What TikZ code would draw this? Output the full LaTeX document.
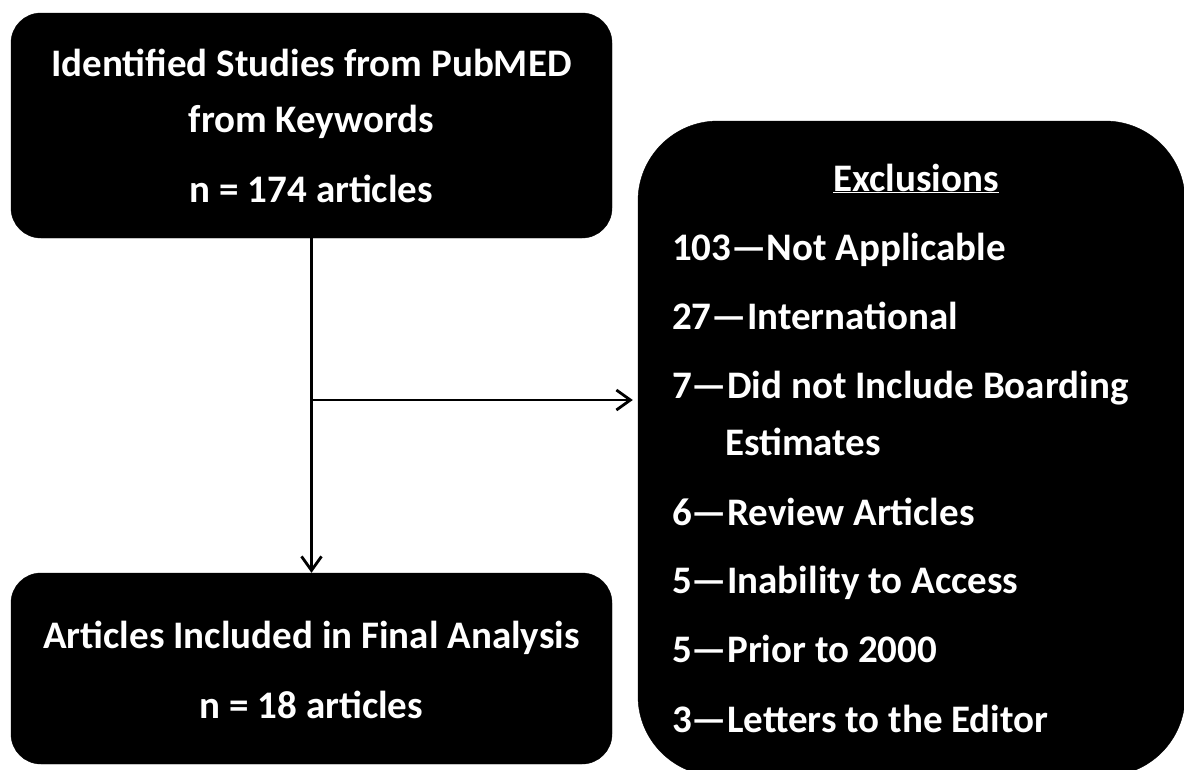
\documentclass[tikz,border=0pt]{standalone}
\usepackage{fontspec}
\setmainfont{Carlito}
\usetikzlibrary{positioning,arrows.meta}

\begin{document}
\begin{tikzpicture}[x=1pt,y=-1pt,
    box/.style={draw=black, fill=black, rounded corners=30pt, inner sep=0pt},
    txt/.style={text=white, font=\bfseries\fontsize{39}{46}\selectfont, anchor=base, inner sep=0pt},
    link/.style={line width=2.8pt},
    >={Straight Barb[length=14pt,width=20pt,line width=2.8pt]}]
      \useasboundingbox[fill=white] (0,0) rectangle (1184,769);

      % Draw boxes
      \node[box, minimum width=601pt, minimum height=225pt] (search) at (311.5,125.5) {};
      \node[box, minimum width=601pt, minimum height=191pt] (final) at (311.5,668.5) {};
      \node[box, rounded corners=80pt, minimum width=547pt, minimum height=655pt] (excl) at (911.5,448.5) {};

      % Box texts
      \node[txt] (search-l1) at (311.5,76) {Identified Studies from PubMED};
      \node[txt] (search-l2) at (311.5,132) {from Keywords};
      \node[txt] (search-n) at (311.5,202) {n = 174 articles};
      \node[txt] (final-l1) at (311.5,648) {Articles Included in Final Analysis};
      \node[txt] (final-n) at (311.5,718) {n = 18 articles};

      \node[txt] (excl-title) at (916,191) {\underline{Exclusions}};
      \foreach \y/\reason [count=\i] in {260/103—Not Applicable, 329/27—International,
          398/7—Did not Include Boarding, 525/6—Review Articles, 593/5—Inability to Access,
          662/5—Prior to 2000, 732/3—Letters to the Editor}
        \node[txt, anchor=base west] (reason\i) at (672,\y) {\reason};
      \node[txt, anchor=base west] (reason3b) at (725,455) {Estimates};

      % Draw arrows
      \coordinate (split) at (311.5,400);
      \draw[link, ->] (search) -- (final);
      \draw[link, ->, shorten >=5pt] (split) -- (excl.west |- split);
    \end{tikzpicture}
\end{document}
